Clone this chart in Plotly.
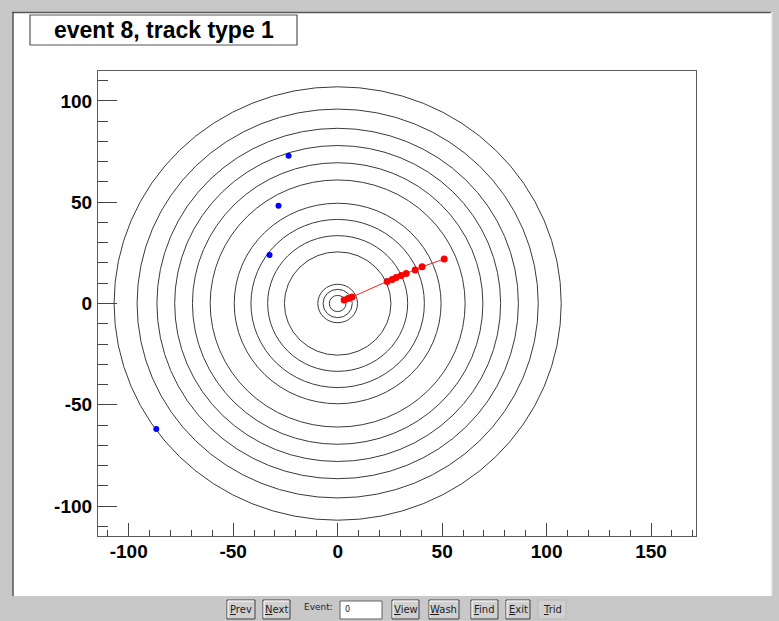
import numpy as np
import plotly.graph_objects as go

# Detector layer radii (cm)
layer_radii = [4.0, 7.0, 9.5, 25.5, 33.5, 41.5, 49.5, 61.0, 69.5, 78.0, 86.5, 96.0, 107.0]

# Hits of the reconstructed track (type 1)
track_x = [3.1, 5.0, 6.9, 23.7, 26.1, 28.0, 30.4, 32.8, 37.1, 40.4, 51.0]
track_y = [1.7, 2.5, 3.2, 10.9, 11.9, 12.8, 13.8, 14.8, 16.5, 18.1, 22.0]

# Unassociated hits
other_x = [-23.5, -28.3, -32.6, -86.8]
other_y = [73.0, 48.3, 24.0, -62.0]

x_ticks = [-100, -50, 0, 50, 100, 150]
y_ticks = [-100, -50, 0, 50, 100]

title_text = "event 8, track type 1"
buttons = ["Prev", "Next", "View", "Wash", "Find", "Exit", "Trid"]
event_label = "Event:"
event_value = "0"

W, H = 779, 621
ML, MR, MT, MB = 98, 83, 71, 85
PW, PH = W - ML - MR, H - MT - MB


def fx(p):
    return (p - ML) / PW


def fy(p):
    return (H - MB - p) / PH


fig = go.Figure()

fig.add_trace(go.Scatter(
    x=track_x, y=track_y, mode="lines+markers",
    line=dict(color="#ff2020", width=1),
    marker=dict(color="#ff0000", size=7),
    hoverinfo="x+y", showlegend=False))

fig.add_trace(go.Scatter(
    x=other_x, y=other_y, mode="markers",
    marker=dict(color="#0000ff", size=6),
    hoverinfo="x+y", showlegend=False))

shapes = []

# window frame: white canvas with sunken bevel
shapes.append(dict(type="rect", xref="paper", yref="paper",
                   x0=fx(13), x1=fx(771), y0=fy(596), y1=fy(12),
                   fillcolor="white", line=dict(width=0), layer="below"))
shapes.append(dict(type="line", xref="paper", yref="paper",
                   x0=fx(12), x1=fx(772), y0=fy(12.5), y1=fy(12.5),
                   line=dict(color="#555555", width=1.5), layer="below"))
shapes.append(dict(type="line", xref="paper", yref="paper",
                   x0=fx(13), x1=fx(13), y0=fy(12), y1=fy(596),
                   line=dict(color="#555555", width=1.5), layer="below"))
shapes.append(dict(type="line", xref="paper", yref="paper",
                   x0=fx(771.5), x1=fx(771.5), y0=fy(12), y1=fy(596),
                   line=dict(color="#eeeeee", width=1.5), layer="below"))

# detector layers
for r in layer_radii:
    shapes.append(dict(type="circle", xref="x", yref="y",
                       x0=-r, x1=r, y0=-r, y1=r,
                       line=dict(color="#3a3a3a", width=1), layer="below"))

# title box
shapes.append(dict(type="rect", xref="paper", yref="paper",
                   x0=fx(30), x1=fx(297), y0=fy(45), y1=fy(15),
                   fillcolor="white", line=dict(color="#555555", width=1.2)))

annotations = [dict(text="<b>" + title_text + "</b>", xref="paper", yref="paper",
                    x=fx(163.5), y=fy(30), showarrow=False,
                    font=dict(family="Liberation Sans", size=23, color="black"),
                    xanchor="center", yanchor="middle")]

# control bar at the bottom
btn_extent = {"Prev": (227, 255), "Next": (263, 290), "View": (392, 419),
              "Wash": (429, 459), "Find": (471, 498), "Exit": (506, 530),
              "Trid": (538, 566)}
for name in buttons:
    x0, x1 = btn_extent[name]
    flat = name == "Trid"
    shapes.append(dict(type="rect", xref="paper", yref="paper",
                       x0=fx(x0), x1=fx(x1), y0=fy(619), y1=fy(600),
                       fillcolor="#d0d0d0",
                       line=dict(color="#b8b8b8" if flat else "#404040", width=1)))
    if not flat:
        shapes.append(dict(type="path", xref="paper", yref="paper",
                           path=f"M {fx(x0+1)} {fy(618)} L {fx(x0+1)} {fy(601)} L {fx(x1-1)} {fy(601)}",
                           line=dict(color="#ffffff", width=1)))
    label = ('<span style="text-decoration:underline">' + name[0] + "</span>" + name[1:])
    annotations.append(dict(text=label, xref="paper", yref="paper",
                            x=fx((x0 + x1) / 2), y=fy(609.5), showarrow=False,
                            font=dict(family="DejaVu Sans", size=10, color="#222222"),
                            xanchor="center", yanchor="middle"))

annotations.append(dict(text=event_label, xref="paper", yref="paper",
                        x=fx(302), y=fy(607), showarrow=False,
                        font=dict(family="DejaVu Sans", size=9, color="#222222"),
                        xanchor="left", yanchor="middle"))
shapes.append(dict(type="rect", xref="paper", yref="paper",
                   x0=fx(340), x1=fx(382), y0=fy(619), y1=fy(601),
                   fillcolor="white", line=dict(color="#606060", width=1)))
annotations.append(dict(text=event_value, xref="paper", yref="paper",
                        x=fx(343), y=fy(609.5), showarrow=False,
                        font=dict(family="DejaVu Sans", size=8, color="#222222"),
                        xanchor="left", yanchor="middle"))

axis_font = dict(family="Liberation Sans", size=19, color="black", weight="bold")

fig.update_layout(
    width=W, height=H,
    margin=dict(l=ML, r=MR, t=MT, b=MB, pad=0),
    paper_bgcolor="#c8c8c8",
    plot_bgcolor="rgba(0,0,0,0)",
    shapes=shapes,
    annotations=annotations,
    xaxis=dict(range=[-114.7, 171.5], tickvals=x_ticks,
               ticktext=[str(v) for v in x_ticks],
               ticks="inside", ticklen=13, tickwidth=1, tickcolor="#444444",
               minor=dict(dtick=10, tick0=0, ticks="inside", ticklen=6,
                          tickwidth=1, tickcolor="#444444"),
               showline=True, linecolor="#5a5a5a", linewidth=1.2, mirror=True,
               showgrid=False, zeroline=False, tickfont=axis_font,
               ticklabelstandoff=-2),
    yaxis=dict(range=[-114.8, 114.8], tickvals=y_ticks,
               ticktext=[str(v) for v in y_ticks],
               ticks="inside", ticklen=19, tickwidth=1, tickcolor="#444444",
               minor=dict(dtick=10, tick0=0, ticks="inside", ticklen=10,
                          tickwidth=1, tickcolor="#444444"),
               showline=True, linecolor="#5a5a5a", linewidth=1.2, mirror=True,
               showgrid=False, zeroline=False, tickfont=axis_font,
               ticklabelstandoff=1),
)

fig.write_html("out.html")
